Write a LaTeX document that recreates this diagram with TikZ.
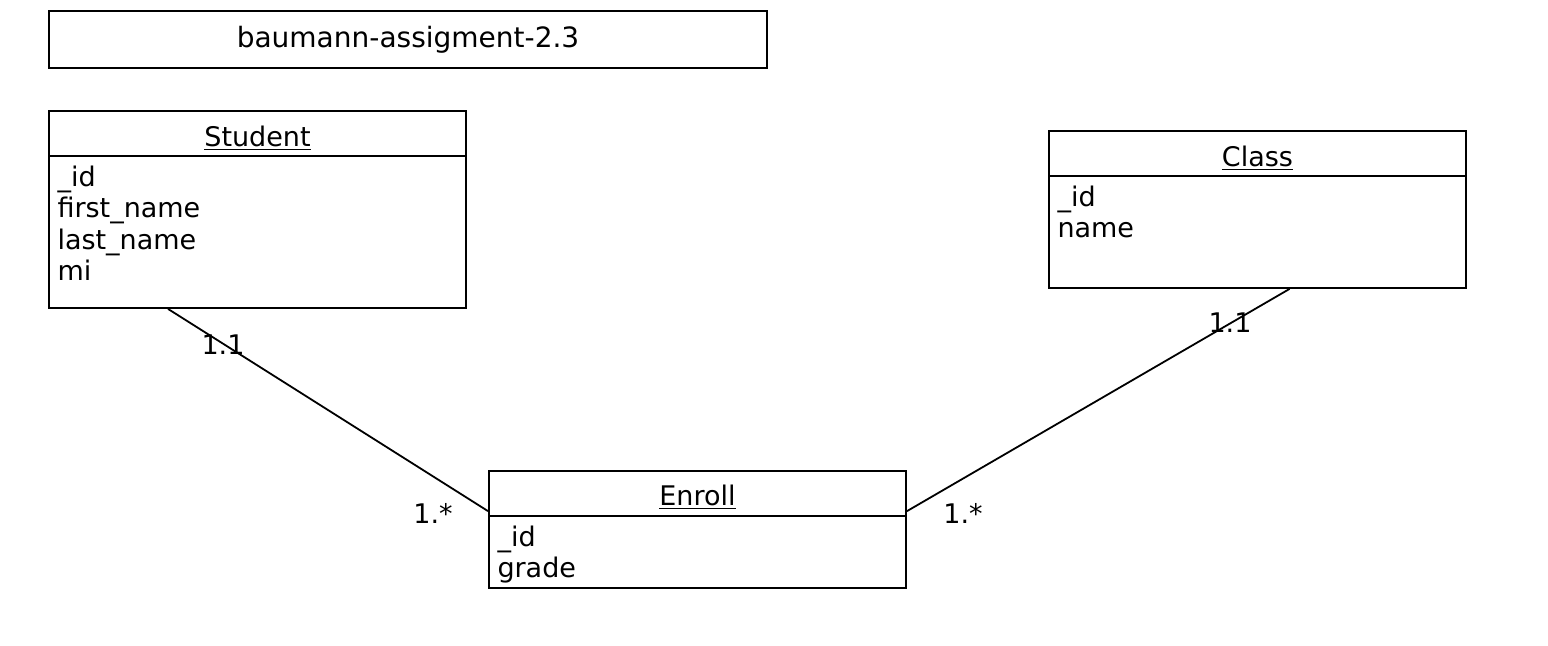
\documentclass[tikz,border=0pt]{standalone}
\usepackage{fontspec}
\setmainfont{DejaVu Sans}
\usepackage{tikz}
\usetikzlibrary{positioning}

\begin{document}
\begin{tikzpicture}[x=0.5pt, y=-0.5pt, every node/.style={font=\fontsize{13.5}{15.75}\selectfont}]
\tikzstyle{caja}=[
    draw,
    line width=0.9pt,
    inner sep=0pt,
    minimum width=208.5pt % Ancho de tabla
]
\tikzstyle{titulo}=[inner sep=0pt, anchor=base]
\tikzstyle{atributos}=[inner sep=0pt, align=left, anchor=north west]
\tikzstyle{enlace}=[-, line width=0.9pt]
\tikzstyle{multi}=[inner sep=0pt]

\useasboundingbox (0,0) rectangle (1548,646);

% Nombre del diagrama
\node[caja, minimum width=359pt, minimum height=28.5pt, font=\fontsize{14}{16}\selectfont] (nombre) at (408,39.5) {baumann-assigment-2.3};

% Tablas
\node[caja, minimum height=98.5pt] (student) at (257.5,209.5) {};
\node[caja, minimum height=78.5pt] (class) at (1257.5,209.5) {};
\node[caja, minimum height=58.5pt] (enroll) at (697.5,529.5) {};

% Cabeceras
\draw[enlace] ([yshift=-23pt]student.north west) -- ([yshift=-23pt]student.north east);
\draw[enlace] ([yshift=-23pt]class.north west) -- ([yshift=-23pt]class.north east);
\draw[enlace] ([yshift=-23pt]enroll.north west) -- ([yshift=-23pt]enroll.north east);

\node[titulo] (studentT) at ([yshift=-18pt]student.north) {\underline{Student}};
\node[titulo] (classT) at ([yshift=-18pt]class.north) {\underline{Class}};
\node[titulo] (enrollT) at ([yshift=-17.5pt]enroll.north) {\underline{Enroll}};

% Atributos
\node[atributos] (studentA) at ([xshift=4.5pt, yshift=-27.7pt]student.north west) {\_id\\first\_name\\last\_name\\mi};
\node[atributos] (classA) at ([xshift=4.5pt, yshift=-27.7pt]class.north west) {\_id\\name};
\node[atributos] (enrollA) at ([xshift=4.5pt, yshift=-27.7pt]enroll.north west) {\_id\\grade};

% Relaciones
\draw[enlace] (student.228) -- (enroll.175.5);
\draw[enlace] (class.292.5) -- (enroll.5.2);

% Multiplicidades
\node[multi] (m1) at (223,345) {1.1};
\node[multi] (m2) at (433,513) {1.*};
\node[multi] (m3) at (1230,323) {1.1};
\node[multi] (m4) at (963,513) {1.*};

\end{tikzpicture}
\end{document}
